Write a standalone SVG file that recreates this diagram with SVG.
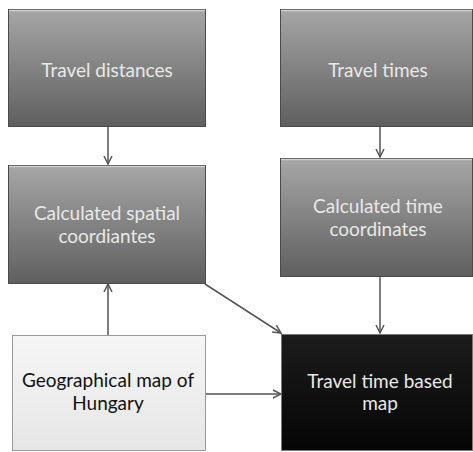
<svg xmlns="http://www.w3.org/2000/svg" width="473" height="452" viewBox="0 0 473 452">
<defs>
<linearGradient id="g" x1="0" y1="0" x2="0" y2="1">
<stop offset="0" stop-color="#a6a6a6"/>
<stop offset="1" stop-color="#5f5f5f"/>
</linearGradient>
<linearGradient id="k" x1="0" y1="0" x2="0" y2="1">
<stop offset="0" stop-color="#1c1c1c"/>
<stop offset="1" stop-color="#050505"/>
</linearGradient>
<linearGradient id="w" x1="0" y1="0" x2="0" y2="1">
<stop offset="0" stop-color="#f6f6f6"/>
<stop offset="1" stop-color="#e6e6e6"/>
</linearGradient>
<marker id="a" markerWidth="10" markerHeight="10" refX="9" refY="5" orient="auto" markerUnits="userSpaceOnUse">
<path d="M1,1 L9,5 L1,9" fill="none" stroke="#555" stroke-width="1.5"/>
</marker>
</defs>
<style>
.gb{fill:url(#g);stroke:#4a4a4a;stroke-width:1}
.t{font-family:Lato,"Open Sans",sans-serif;font-size:19px;text-anchor:middle}
.lt{fill:#e8e8e8}
.dk{fill:#111}
.c{stroke:#555;stroke-width:1.5;fill:none;marker-end:url(#a)}
</style>
<rect width="473" height="452" fill="#ffffff"/>
<g id="connectors">
<line class="c" x1="108" y1="127" x2="108" y2="164"/>
<line class="c" x1="380" y1="127" x2="380" y2="157"/>
<line class="c" x1="108" y1="335" x2="108" y2="284"/>
<line class="c" x1="205" y1="284" x2="281" y2="333"/>
<line class="c" x1="380" y1="276" x2="380" y2="333"/>
<line class="c" x1="205" y1="394" x2="281" y2="394"/>
</g>
<g id="n1">
<rect class="gb" x="8.5" y="9.5" width="197" height="117"/>
<line x1="9" y1="10.5" x2="205" y2="10.5" stroke="#d0d0d0" stroke-width="1.5"/>
<text class="t lt" x="107" y="77">Travel distances</text>
</g>
<g id="n2">
<rect class="gb" x="280.5" y="9.5" width="192" height="117"/>
<line x1="281" y1="10.5" x2="472" y2="10.5" stroke="#d0d0d0" stroke-width="1.5"/>
<text class="t lt" x="378" y="77">Travel times</text>
</g>
<g id="n3">
<rect class="gb" x="8.5" y="165.5" width="197" height="118"/>
<line x1="9" y1="166.5" x2="205" y2="166.5" stroke="#d0d0d0" stroke-width="1.5"/>
<text class="t lt" x="107" y="220">Calculated spatial</text>
<text class="t lt" x="107" y="243">coordiantes</text>
</g>
<g id="n4">
<rect class="gb" x="280.5" y="158.5" width="192" height="118"/>
<line x1="281" y1="159.5" x2="472" y2="159.5" stroke="#d0d0d0" stroke-width="1.5"/>
<text class="t lt" x="378" y="213">Calculated time</text>
<text class="t lt" x="378" y="236">coordinates</text>
</g>
<g id="n5">
<rect x="12.5" y="335.5" width="193" height="115" fill="url(#w)" stroke="#9a9a9a" stroke-width="1"/>
<text class="t dk" x="108" y="387">Geographical map of</text>
<text class="t dk" x="108" y="410">Hungary</text>
</g>
<g id="n6">
<rect x="281.5" y="334.5" width="191" height="116" fill="url(#k)" stroke="#777" stroke-width="1"/>
<text class="t lt" x="380" y="388">Travel time based</text>
<text class="t lt" x="380" y="410">map</text>
</g>
</svg>
